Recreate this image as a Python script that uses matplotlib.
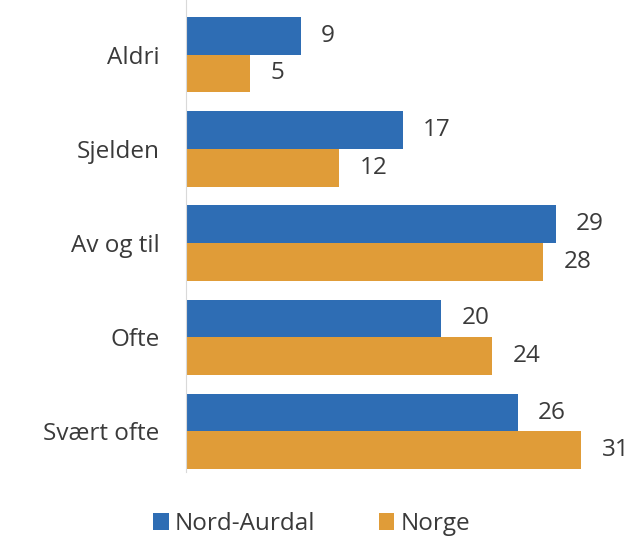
import matplotlib
matplotlib.use("Agg")
import matplotlib.pyplot as plt
import numpy as np

categories = ["Aldri", "Sjelden", "Av og til", "Ofte", "Svært ofte"]
nord_aurdal = [9, 17, 29, 20, 26]
norge = [5, 12, 28, 24, 31]
series_names = ["Nord-Aurdal", "Norge"]

plt.rcParams['font.family'] = ['Open Sans', 'DejaVu Sans']

fig = plt.figure(figsize=(6.36, 5.4), dpi=100)
ax = fig.add_axes([186/636, 1 - 472/540, 450/636, 472/540])

y = np.arange(len(categories))
h = 0.40
blue = "#2E6DB4"
orange = "#E09C38"
txt = "#3a3a3a"
fs = 17.5
b1 = ax.barh(y - h/2, nord_aurdal, height=h, color=blue, label=series_names[0])
b2 = ax.barh(y + h/2, norge, height=h, color=orange, label=series_names[1])

for bars, vals in ((b1, nord_aurdal), (b2, norge)):
    for rect, v in zip(bars, vals):
        ax.text(rect.get_width() + 1.6, rect.get_y() + rect.get_height()/2, str(v),
                va="center", ha="left", fontsize=fs, color=txt)

ax.set_xlim(0, 450/12.75)
ax.set_ylim(4.43, -0.58)
ax.set_yticks(y)
ax.set_yticklabels(categories, fontsize=fs, color=txt)
ax.tick_params(axis="y", length=0, pad=19)
ax.set_xticks([])
for s in ["top", "right", "bottom"]:
    ax.spines[s].set_visible(False)
ax.spines["left"].set_color("#d9d9d9")

fig.legend(handles=[b1, b2], loc="center", bbox_to_anchor=(0.49, 1 - 524/540), ncol=2,
           frameon=False, fontsize=fs, handlelength=0.65, handleheight=0.65,
           handletextpad=0.25, columnspacing=2.6, labelcolor=txt)

fig.savefig("out.png", dpi=100)
